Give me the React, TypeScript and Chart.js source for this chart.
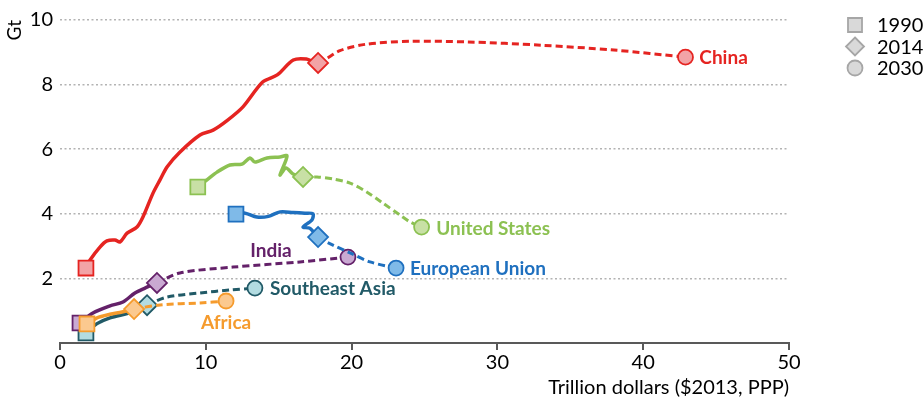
import React, { useEffect, useRef } from "react";
import { Chart, registerables } from "chart.js";

Chart.register(...registerables);

// ---- Data: [GDP trillion $2013 PPP, CO2 Gt] ----
// history 1990 -> 2014 (solid); projection 2014 -> 2030 (dashed, first point = 2014)
const chinaHistory = [
  [1.78, 2.32], [2.06, 2.57], [2.74, 2.97], [3.22, 3.16], [3.77, 3.19], [4.12, 3.13],
  [4.6, 3.4], [5.28, 3.59], [5.69, 3.9], [6.38, 4.64], [6.86, 5.05], [7.34, 5.45],
  [8.2, 5.9], [9.6, 6.44], [10.5, 6.59], [11.5, 6.9], [12.55, 7.31], [13.9, 8.08],
  [14.9, 8.3], [16.0, 8.76], [16.9, 8.79], [17.7, 8.67],
];
const chinaProjection = [
  [17.7, 8.67], [19.2, 9.05], [21, 9.25], [24, 9.34], [28, 9.32], [33, 9.22], [38, 9.07], [42.9, 8.85],
];

const usHistory = [
  [9.45, 4.83], [10.08, 5.05], [10.77, 5.29], [11.66, 5.51], [12.48, 5.54], [13.03, 5.73],
  [13.37, 5.6], [14.2, 5.73], [15.09, 5.76], [15.57, 5.79], [15.09, 5.2], [15.5, 5.42],
  [15.98, 5.23], [16.67, 5.14],
];
const usProjection = [
  [16.67, 5.14], [17.63, 5.14], [18.72, 5.08], [19.89, 4.95], [21.06, 4.67], [22.15, 4.33],
  [23.32, 3.96], [24.0, 3.75], [24.8, 3.59],
];

const euHistory = [
  [12.07, 3.99], [12.7, 4.02], [13.5, 3.9], [14.3, 3.92], [15.1, 4.06], [16.0, 4.04],
  [16.8, 4.02], [17.35, 4.0], [17.28, 3.81], [16.67, 3.59], [17.15, 3.55], [17.7, 3.28],
];
const euProjection = [
  [17.7, 3.28], [18.72, 3.03], [19.89, 2.79], [21.26, 2.51], [23.05, 2.32],
];

const indiaHistory = [
  [1.37, 0.62], [2.26, 0.93], [3.43, 1.15], [4.32, 1.27], [5.14, 1.55], [5.83, 1.7], [6.65, 1.86],
];
const indiaProjection = [
  [6.65, 1.86], [8.23, 2.17], [11.87, 2.35], [16.46, 2.51], [19.75, 2.66],
];

const seaHistory = [
  [1.78, 0.31], [2.54, 0.6], [3.43, 0.78], [4.6, 0.91], [5.49, 1.03], [5.97, 1.17],
];
const seaProjection = [
  [5.97, 1.17], [7.34, 1.42], [9.6, 1.55], [11.66, 1.64], [13.37, 1.7],
];

const africaHistory = [
  [1.85, 0.59], [2.54, 0.78], [3.43, 0.89], [4.25, 0.96], [5.08, 1.05],
];
const africaProjection = [
  [5.08, 1.05], [6.86, 1.18], [9.6, 1.24], [11.39, 1.3],
];

const legendYears = ["1990", "2014", "2030"];
const xTickValues = [0, 10, 20, 30, 40, 50];
const yTickValues = [2, 4, 6, 8, 10];

const FONT = 'Lato, "Open Sans", "DejaVu Sans", sans-serif';

type Region = {
  name: string;
  history: number[][];
  projection: number[][];
  line: string;
  fill: string;
  label: { x: number; y: number; align: CanvasTextAlign; color: string };
};

// dataset 0 is drawn on top
const regions: Region[] = [
  {
    name: "China", history: chinaHistory, projection: chinaProjection,
    line: "#e52421", fill: "#f2a3a6",
    label: { x: 43.85, y: 8.85, align: "left", color: "#e52421" },
  },
  {
    name: "United States", history: usHistory, projection: usProjection,
    line: "#8cc152", fill: "#c8e0a5",
    label: { x: 25.8, y: 3.56, align: "left", color: "#8cc152" },
  },
  {
    name: "European Union", history: euHistory, projection: euProjection,
    line: "#1f70bf", fill: "#7fbae8",
    label: { x: 24.0, y: 2.32, align: "left", color: "#1f70bf" },
  },
  {
    name: "Africa", history: africaHistory, projection: africaProjection,
    line: "#f59b2d", fill: "#fbc98f",
    label: { x: 11.39, y: 0.65, align: "center", color: "#f59b2d" },
  },
  {
    name: "India", history: indiaHistory, projection: indiaProjection,
    line: "#642169", fill: "#c9a9d2",
    label: { x: 14.47, y: 2.88, align: "center", color: "#642169" },
  },
  {
    name: "Southeast Asia", history: seaHistory, projection: seaProjection,
    line: "#215a67", fill: "#b3dce1",
    label: { x: 14.4, y: 1.7, align: "left", color: "#215a67" },
  },
];

const labelPlugin = {
  id: "regionLabels",
  afterDatasetsDraw(chart: any) {
    const { ctx, scales } = chart;
    ctx.save();
    ctx.font = `bold 19px ${FONT}`;
    ctx.textBaseline = "middle";
    regions.forEach((r) => {
      ctx.fillStyle = r.label.color;
      ctx.textAlign = r.label.align;
      ctx.fillText(r.name, scales.x.getPixelForValue(r.label.x), scales.y.getPixelForValue(r.label.y) + 1);
    });
    ctx.restore();
  },
};

const legendPlugin = {
  id: "yearLegend",
  afterDraw(chart: any) {
    const { ctx, chartArea } = chart;
    const mx = chartArea.right + 66;
    const tx = chartArea.right + 88;
    const y0 = chartArea.top + 5;
    ctx.save();
    ctx.font = `20px ${FONT}`;
    ctx.textBaseline = "middle";
    ctx.textAlign = "left";
    legendYears.forEach((label, i) => {
      const y = y0 + i * 21.5;
      ctx.fillStyle = "#d9d9d9";
      ctx.strokeStyle = "#a6a6a6";
      ctx.lineWidth = 1.8;
      ctx.beginPath();
      if (i === 0) {
        ctx.rect(mx - 7, y - 7, 14, 14);
      } else if (i === 1) {
        ctx.moveTo(mx, y - 9);
        ctx.lineTo(mx + 9, y);
        ctx.lineTo(mx, y + 9);
        ctx.lineTo(mx - 9, y);
        ctx.closePath();
      } else {
        ctx.arc(mx, y, 7.5, 0, Math.PI * 2);
      }
      ctx.fill();
      ctx.stroke();
      ctx.fillStyle = "#000";
      ctx.fillText(label, tx, y + 1);
    });
    ctx.restore();
  },
};

export default function App() {
  const canvasRef = useRef<HTMLCanvasElement | null>(null);

  useEffect(() => {
    document.body.style.margin = "0";
    const canvas = canvasRef.current;
    if (!canvas) return;

    const datasets = regions.map((r) => {
      const pts = [...r.history, ...r.projection.slice(1)];
      const split = r.history.length - 1;
      const last = pts.length - 1;
      return {
        label: r.name,
        data: pts.map(([x, y]) => ({ x, y })),
        showLine: true,
        borderColor: r.line,
        borderWidth: 3.5,
        tension: 0.3,
        borderCapStyle: "round" as const,
        borderJoinStyle: "round" as const,
        segment: {
          borderDash: (ctx: any) => (ctx.p0DataIndex >= split ? [7, 4] : undefined),
          borderWidth: (ctx: any) => (ctx.p0DataIndex >= split ? 3 : 3.5),
          borderCapStyle: (ctx: any) => (ctx.p0DataIndex >= split ? "butt" : "round"),
        },
        pointStyle: pts.map((_, i) => (i === 0 ? "rect" : i === split ? "rectRot" : "circle")),
        pointRadius: pts.map((_, i) => (i === 0 ? 10.5 : i === split ? 10 : i === last ? 7.5 : 0)),
        pointBackgroundColor: r.fill,
        pointBorderColor: r.line,
        pointBorderWidth: 1.8,
      };
    });

    const chart = new Chart(canvas, {
      type: "scatter",
      data: { datasets },
      plugins: [labelPlugin, legendPlugin],
      options: {
        animation: false,
        responsive: false,
        events: [],
        layout: { padding: { top: 20, right: 135, left: 0, bottom: 0 } },
        plugins: { legend: { display: false }, tooltip: { enabled: false } },
        scales: {
          x: {
            type: "linear",
            min: 0,
            max: 50,
            afterFit: (s: any) => { s.height = 59; },
            afterBuildTicks: (s: any) => { s.ticks = xTickValues.map((v) => ({ value: v })); },
            ticks: { color: "#000", font: { family: FONT, size: 20 }, padding: 1 },
            grid: {
              drawOnChartArea: false,
              drawTicks: true,
              tickLength: 7,
              color: "#595959",
              lineWidth: 2,
            },
            border: { display: true, color: "#595959", width: 2 },
            title: {
              display: true,
              text: "Trillion dollars ($2013, PPP)",
              align: "end",
              color: "#000",
              font: { family: FONT, size: 20 },
              padding: { top: 0, bottom: 2 },
            },
          },
          y: {
            type: "linear",
            min: 0,
            max: 10,
            afterFit: (s: any) => { s.width = 60; },
            afterBuildTicks: (s: any) => { s.ticks = yTickValues.map((v) => ({ value: v })); },
            ticks: { color: "#000", font: { family: FONT, size: 20 }, padding: 7 },
            grid: {
              drawTicks: false,
              color: "#b3b3b3",
              lineWidth: 1.5,
            },
            border: { display: false, dash: [2, 2.5] },
            title: {
              display: true,
              text: "Gt",
              align: "end",
              color: "#000",
              font: { family: FONT, size: 19 },
              padding: { top: 3, bottom: 0 },
            },
          },
        },
      },
    } as any);

    return () => chart.destroy();
  }, []);

  return (
    <div style={{ width: 924, height: 402 }}>
      <canvas ref={canvasRef} width={924} height={402} style={{ display: "block" }} />
    </div>
  );
}
